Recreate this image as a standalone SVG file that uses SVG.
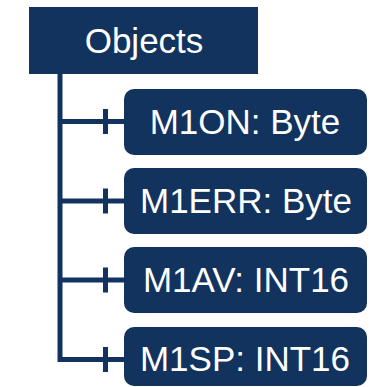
<svg xmlns="http://www.w3.org/2000/svg" width="373" height="387" viewBox="0 0 373 387">
<style>
.box{fill:#12335e}
.line{stroke:#12335e;stroke-width:5;fill:none}
.tick{stroke:#12335e;stroke-width:5}
.t{fill:#ffffff;font-family:"Liberation Sans",Arial,sans-serif;font-size:35px;text-anchor:middle}
</style>
<rect width="373" height="387" fill="#ffffff"/>
<g id="connectors">
<path class="line" d="M60,73 V359.5 H124"/>
<path class="line" d="M60,121.5 H124 M60,201 H124 M60,280 H124"/>
<path class="tick" d="M105.5,109 V134 M105.5,188.5 V213.5 M105.5,267.5 V292.5 M105.5,347 V372"/>
</g>
<g id="objects">
<rect class="box" x="29" y="7" width="229" height="67"/>
<text class="t" x="144" y="53" font-size="36">Objects</text>
</g>
<g id="m1on">
<rect class="box" x="124" y="89" width="243" height="66" rx="10"/>
<text class="t" x="245" y="134">M1ON: Byte</text>
</g>
<g id="m1err">
<rect class="box" x="124" y="168" width="243" height="66" rx="10"/>
<text class="t" x="246" y="213">M1ERR: Byte</text>
</g>
<g id="m1av">
<rect class="box" x="124" y="247" width="243" height="66" rx="10"/>
<text class="t" x="246" y="292">M1AV: INT16</text>
</g>
<g id="m1sp">
<rect class="box" x="124" y="327" width="243" height="59" rx="10"/>
<text class="t" x="245" y="371">M1SP: INT16</text>
</g>
</svg>
